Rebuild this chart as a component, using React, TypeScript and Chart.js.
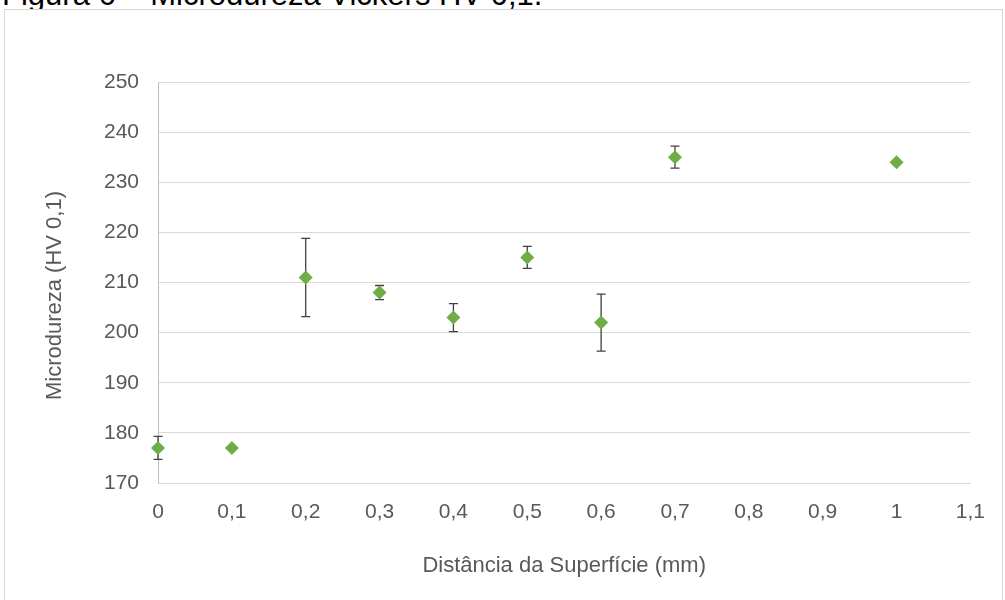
import React, { useEffect, useRef } from 'react';
import { Chart, registerables } from 'chart.js';

Chart.register(...registerables);

// ---- data ----
const distances = [0, 0.1, 0.2, 0.3, 0.4, 0.5, 0.6, 0.7, 1.0];
const hardness = [177, 177, 211, 208, 203, 215, 202, 235, 234];
const hardnessError = [2.3, 0, 7.8, 1.4, 2.8, 2.2, 5.7, 2.2, 0];
const xTickLabels = ['0', '0,1', '0,2', '0,3', '0,4', '0,5', '0,6', '0,7', '0,8', '0,9', '1', '1,1'];
const yMin = 170;
const yMax = 250;
const yStep = 10;
const figureTitle = 'Figura 6 – Microdureza Vickers HV 0,1.';
const xAxisTitle = 'Distância da Superfície (mm)';
const yAxisTitle = 'Microdureza (HV 0,1)';

const FONT = '"Liberation Sans", Arial, sans-serif';
const TEXT_COLOR = '#595959';
const GREEN = '#70AD47';

const errorBarPlugin = {
  id: 'errorBars',
  beforeDatasetsDraw(chart: any) {
    const { ctx, scales } = chart;
    const x = scales.x;
    const y = scales.y;
    ctx.save();
    ctx.strokeStyle = '#404040';
    ctx.lineWidth = 1.3;
    distances.forEach((d, i) => {
      const e = hardnessError[i];
      if (!e) return;
      const px = x.getPixelForValue(d);
      const top = y.getPixelForValue(hardness[i] + e);
      const bot = y.getPixelForValue(hardness[i] - e);
      ctx.beginPath();
      ctx.moveTo(px, top);
      ctx.lineTo(px, bot);
      ctx.moveTo(px - 4.5, top);
      ctx.lineTo(px + 4.5, top);
      ctx.moveTo(px - 4.5, bot);
      ctx.lineTo(px + 4.5, bot);
      ctx.stroke();
    });
    ctx.restore();
  },
};

const yTitlePlugin = {
  id: 'yTitle',
  afterDraw(chart: any) {
    const { ctx, chartArea } = chart;
    ctx.save();
    ctx.translate(50, (chartArea.top + chartArea.bottom) / 2 + 13);
    ctx.rotate(-Math.PI / 2);
    ctx.font = '22px ' + FONT;
    ctx.fillStyle = TEXT_COLOR;
    ctx.textAlign = 'center';
    ctx.textBaseline = 'middle';
    ctx.fillText(yAxisTitle, 0, 0);
    ctx.restore();
  },
};

export default function App() {
  const canvasRef = useRef<HTMLCanvasElement | null>(null);

  useEffect(() => {
    const canvas = canvasRef.current;
    if (!canvas) return;
    const chart = new Chart(canvas, {
      type: 'scatter',
      data: {
        datasets: [
          {
            label: 'HV 0,1',
            data: distances.map((d, i) => ({ x: d, y: hardness[i] })),
            showLine: false,
            pointStyle: 'rectRot',
            pointRadius: 7,
            pointHoverRadius: 7,
            borderWidth: 0,
            backgroundColor: GREEN,
            borderColor: GREEN,
            clip: false,
          } as any,
        ],
      },
      options: {
        animation: false,
        responsive: false,
        devicePixelRatio: 1,
        layout: { padding: { left: 0, top: 72, right: 27, bottom: 0 } },
        plugins: {
          legend: { display: false },
          tooltip: { enabled: false },
          title: { display: false },
        },
        scales: {
          x: {
            type: 'linear',
            min: 0,
            max: 1.1,
            afterFit: (scale: any) => {
              scale.height = 117;
            },
            afterBuildTicks: (scale: any) => {
              scale.ticks = xTickLabels.map((_, i) => ({ value: i / 10 }));
            },
            ticks: {
              autoSkip: false,
              maxRotation: 0,
              padding: 17,
              color: TEXT_COLOR,
              font: { family: FONT, size: 21 },
              callback: (_v: any, i: number) => xTickLabels[i],
            },
            grid: { display: false, drawTicks: false },
            border: { display: true, color: '#d9d9d9', width: 1 },
            title: {
              display: true,
              text: xAxisTitle,
              color: TEXT_COLOR,
              font: { family: FONT, size: 22 },
              padding: { top: 0, bottom: 21 },
            },
          },
          y: {
            type: 'linear',
            min: yMin,
            max: yMax,
            afterFit: (scale: any) => {
              scale.width = 153;
            },
            ticks: {
              stepSize: yStep,
              padding: 19,
              color: TEXT_COLOR,
              font: { family: FONT, size: 21 },
            },
            grid: { color: '#d9d9d9', lineWidth: 1, drawTicks: false },
            border: { display: true, color: '#bfbfbf', width: 1 },
          },
        },
      } as any,
      plugins: [errorBarPlugin, yTitlePlugin],
    });
    return () => chart.destroy();
  }, []);

  return (
    <div
      style={{
        position: 'fixed',
        left: 0,
        top: 0,
        width: 1005,
        height: 600,
        overflow: 'hidden',
        background: '#ffffff',
      }}
    >
      <div
        style={{
          position: 'absolute',
          left: 2,
          top: -21,
          fontFamily: FONT,
          fontSize: 31,
          lineHeight: '31px',
          color: '#000000',
          whiteSpace: 'nowrap',
        }}
      >
        {figureTitle}
      </div>
      <div
        style={{
          position: 'absolute',
          left: 4,
          top: 9,
          width: 997,
          height: 600,
          border: '1px solid #d6d6d6',
          background: '#ffffff',
        }}
      >
        <canvas ref={canvasRef} width={997} height={590} style={{ display: 'block' }} />
      </div>
    </div>
  );
}
